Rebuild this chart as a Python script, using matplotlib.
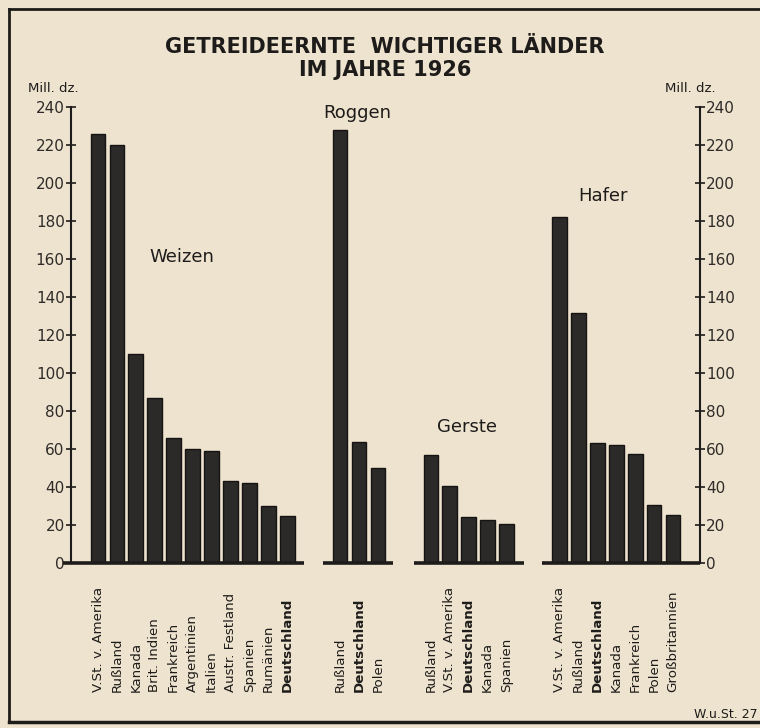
import matplotlib.pyplot as plt
from matplotlib.lines import Line2D

# Getreideernte 1926, Mill. dz
weizen_laender = ["V.St. v. Amerika", "Rußland", "Kanada", "Brit. Indien", "Frankreich",
                  "Argentinien", "Italien", "Austr. Festland", "Spanien", "Rumänien", "Deutschland"]
weizen_werte = [226, 220, 110, 87, 66, 60, 59, 43, 42, 30, 25]

roggen_laender = ["Rußland", "Deutschland", "Polen"]
roggen_werte = [228, 63.5, 50]

gerste_laender = ["Rußland", "V.St. v. Amerika", "Deutschland", "Kanada", "Spanien"]
gerste_werte = [56.7, 40.4, 24.4, 22.5, 20.4]

hafer_laender = ["V.St. v. Amerika", "Rußland", "Deutschland", "Kanada", "Frankreich",
                 "Polen", "Großbritannien"]
hafer_werte = [182, 131.4, 63, 62.1, 57.4, 30.5, 25.4]

gruppen = ["Weizen", "Roggen", "Gerste", "Hafer"]
yticks = list(range(0, 241, 20))

PAPER = "#eee3cf"
INK = "#1e1c1a"
BAR = "#2b2a28"

W, H = 760, 728
fig = plt.figure(figsize=(W / 100, H / 100), dpi=100, facecolor=PAPER)

# axes box in pixel terms: left axis x=71, right axis x=700, zero y=563, 240 y=107
ax = fig.add_axes([71 / W, (H - 563) / H, (700 - 71) / W, (563 - 107) / H])
ax.set_facecolor(PAPER)

GAP = 2.8
data = [(weizen_laender, weizen_werte), (roggen_laender, roggen_werte),
        (gerste_laender, gerste_werte), (hafer_laender, hafer_werte)]

pos_all = []
start = 0.0
for laender, werte in data:
    pos = [start + i for i in range(len(werte))]
    pos_all.append(pos)
    start = pos[-1] + GAP

for (laender, werte), pos in zip(data, pos_all):
    ax.bar(pos, werte, width=0.78, color=BAR, edgecolor="#151413", linewidth=1.0, zorder=3)
    for x, name in zip(pos, laender):
        ax.text(x, -68, name, rotation=90, ha="center", va="bottom", fontsize=9.6,
                color=INK, fontweight="bold" if name == "Deutschland" else "normal",
                clip_on=False)

xmin, xmax = -1.43, pos_all[-1][-1] + 1.43
ax.set_xlim(xmin, xmax)
ax.set_ylim(0, 240)

# baseline pieces under each group
ax.hlines(0, -1.85, pos_all[0][-1] + 0.9, color=INK, lw=2.6, clip_on=False, zorder=4)
ax.hlines(0, pos_all[1][0] - 0.9, pos_all[1][-1] + 0.8, color=INK, lw=2.6, clip_on=False, zorder=4)
ax.hlines(0, pos_all[2][0] - 0.9, pos_all[2][-1] + 0.9, color=INK, lw=2.6, clip_on=False, zorder=4)
ax.hlines(0, pos_all[3][0] - 0.9, xmax, color=INK, lw=2.6, clip_on=False, zorder=4)

for s in ["top", "bottom"]:
    ax.spines[s].set_visible(False)
for s in ["left", "right"]:
    ax.spines[s].set_color(INK)
    ax.spines[s].set_linewidth(1.5)

ax.set_xticks([])
ax.set_yticks(yticks)
ax.tick_params(axis="y", direction="inout", length=7, width=1.2, color=INK,
               labelsize=11, labelcolor="#2e2b28", pad=1, left=True, right=True,
               labelleft=True, labelright=True)

# group names
ax.text(4.44, 161, "Weizen", fontsize=13, color=INK, ha="center", va="center")
ax.text(13.7, 237, "Roggen", fontsize=13, color=INK, ha="center", va="center", clip_on=False)
ax.text(19.5, 71.5, "Gerste", fontsize=13, color=INK, ha="center", va="center")
ax.text(26.7, 193, "Hafer", fontsize=13, color=INK, ha="center", va="center")

# title and units
fig.text(385 / W, 1 - 47 / H, "GETREIDEERNTE  WICHTIGER LÄNDER", ha="center", va="center",
         fontsize=15, fontweight="bold", color=INK)
fig.text(385 / W, 1 - 70 / H, "IM JAHRE 1926", ha="center", va="center",
         fontsize=15, fontweight="bold", color=INK)
fig.text(28 / W, 1 - 89 / H, "Mill. dz.", ha="left", va="center", fontsize=9.5, color=INK)
fig.text(665 / W, 1 - 89 / H, "Mill. dz.", ha="left", va="center", fontsize=9.5, color=INK)
fig.text(758 / W, 1 - 715 / H, "W.u.St. 27", ha="right", va="center", fontsize=9, color=INK)

# frame
fig.add_artist(Line2D([9 / W, 9 / W], [1 - 9 / H, 1 - 722 / H], color=INK, lw=2))
fig.add_artist(Line2D([9 / W, 1], [1 - 9 / H, 1 - 9 / H], color=INK, lw=2))
fig.add_artist(Line2D([9 / W, 1], [1 - 722 / H, 1 - 722 / H], color=INK, lw=2.5))

fig.savefig("out.png", dpi=100, facecolor=PAPER)
